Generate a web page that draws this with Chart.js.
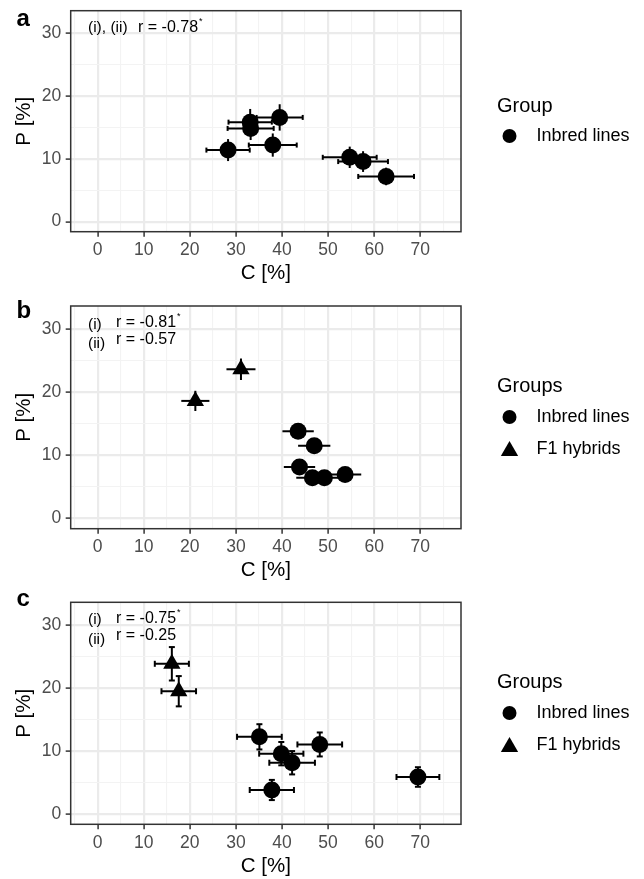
<!DOCTYPE html>
<html>
<head>
<meta charset="utf-8">
<script src="https://cdn.jsdelivr.net/npm/chart.js@4.4.1/dist/chart.umd.min.js"></script>
<style>
  body { margin: 0; background: #fff; }
  .panel { position: absolute; left: 0; width: 644px; }
  canvas { display: block; }
</style>
</head>
<body>
<div class="panel" style="top:0"><canvas id="chartA" width="644" height="290"></canvas></div>
<div class="panel" style="top:290px"><canvas id="chartB" width="644" height="295"></canvas></div>
<div class="panel" style="top:585px"><canvas id="chartC" width="644" height="294"></canvas></div>
<script>
// ---- axis ranges (same for all three panels)
const X_MIN = -5.85, X_MAX = 78.85;
const Y_MIN = -1.6, Y_MAX = 33.6;

// ---- panel a: inbred lines (C %, P %, error in C, error in P)
const aInbredC    = [28.3, 33.1, 33.2, 39.5, 38.0, 54.7, 57.6, 62.6];
const aInbredP    = [11.4, 15.85, 14.85, 16.6, 12.2, 10.25, 9.57, 7.2];
const aInbredCErr = [4.7, 4.7, 5.0, 5.0, 5.2, 5.85, 5.4, 6.05];
const aInbredPErr = [1.75, 2.1, 1.85, 2.1, 1.85, 1.7, 1.65, 1.4];

// ---- panel b
const bInbredC    = [43.5, 47.0, 43.8, 46.6, 49.2, 53.7];
const bInbredP    = [13.8, 11.5, 8.15, 6.47, 6.47, 6.95];
const bInbredCErr = [3.4, 3.5, 3.4, 3.5, 3.5, 3.5];
const bInbredPErr = [1.2, 1.2, 1.0, 0.9, 0.9, 1.0];
const bHybridC    = [21.2, 31.1];
const bHybridP    = [18.6, 23.6];
const bHybridCErr = [3.05, 3.15];
const bHybridPErr = [1.6, 1.7];

// ---- panel c
const cInbredC    = [35.1, 39.85, 42.2, 48.2, 37.8, 69.5];
const cInbredP    = [12.27, 9.6, 8.16, 11.06, 3.84, 5.9];
const cInbredCErr = [4.85, 4.8, 4.95, 4.85, 4.8, 4.65];
const cInbredPErr = [2.0, 1.85, 1.85, 1.9, 1.6, 1.55];
const cHybridC    = [16.1, 17.6];
const cHybridP    = [23.85, 19.5];
const cHybridCErr = [3.7, 3.75];
const cHybridPErr = [2.65, 2.4];

const FONT = '"Liberation Sans", Arial, Helvetica, sans-serif';

function toPoints(xs, ys) {
  return xs.map((x, i) => ({ x: x, y: ys[i] }));
}

function inbred(xs, ys, xe, ye) {
  return {
    label: 'Inbred lines', data: toPoints(xs, ys), cErr: xe, pErr: ye,
    pointStyle: 'circle', pointRadius: 8.5, pointBorderWidth: 0,
    backgroundColor: '#000', borderColor: '#000'
  };
}
function hybrid(xs, ys, xe, ye) {
  return {
    label: 'F1 hybrids', data: toPoints(xs, ys), cErr: xe, pErr: ye,
    pointStyle: 'triangle', pointRadius: 10, pointBorderWidth: 0,
    backgroundColor: '#000', borderColor: '#000'
  };
}

// error bars drawn under the points, through the chart scales
const errorBarPlugin = {
  id: 'ggErrorBars',
  beforeDatasetsDraw(chart, args, opts) {
    const { ctx } = chart;
    const x = chart.scales.x, y = chart.scales.y;
    ctx.save();
    ctx.strokeStyle = '#000';
    ctx.lineWidth = 2;
    const seg = (x0, y0, x1, y1) => { ctx.beginPath(); ctx.moveTo(x0, y0); ctx.lineTo(x1, y1); ctx.stroke(); };
    chart.data.datasets.forEach(ds => {
      ds.data.forEach((pt, i) => {
        const px = x.getPixelForValue(pt.x), py = y.getPixelForValue(pt.y);
        const xl = x.getPixelForValue(pt.x - ds.cErr[i]), xr = x.getPixelForValue(pt.x + ds.cErr[i]);
        const yt = y.getPixelForValue(pt.y + ds.pErr[i]), yb = y.getPixelForValue(pt.y - ds.pErr[i]);
        seg(xl, py, xr, py);
        seg(px, yt, px, yb);
        if (opts.capC) { seg(xl, py - opts.capC, xl, py + opts.capC); seg(xr, py - opts.capC, xr, py + opts.capC); }
        if (opts.capP) { seg(px - opts.capP, yt, px + opts.capP, yt); seg(px - opts.capP, yb, px + opts.capP, yb); }
      });
    });
    ctx.restore();
  }
};

function marker(ctx, style, r, cx, cy) {
  ctx.beginPath();
  if (style === 'triangle') {
    ctx.moveTo(cx, cy - r);
    ctx.lineTo(cx + r * Math.sin(2 * Math.PI / 3), cy - r * Math.cos(2 * Math.PI / 3));
    ctx.lineTo(cx + r * Math.sin(4 * Math.PI / 3), cy - r * Math.cos(4 * Math.PI / 3));
    ctx.closePath();
  } else {
    ctx.arc(cx, cy, r, 0, Math.PI * 2);
  }
  ctx.fill();
}

// frame, axis titles, panel letter, r-values and legend
const decorPlugin = {
  id: 'ggDecor',
  afterDraw(chart, args, o) {
    const { ctx, chartArea: a } = chart;
    ctx.save();
    ctx.strokeStyle = '#333333';
    ctx.lineWidth = 1.5;
    ctx.strokeRect(a.left, a.top, a.right - a.left, a.bottom - a.top);

    ctx.fillStyle = '#000';
    ctx.textBaseline = 'middle';
    ctx.textAlign = 'center';
    ctx.font = '20.5px ' + FONT;
    ctx.fillText('C [%]', (a.left + a.right) / 2, a.bottom + 42);
    ctx.save();
    ctx.translate(24.5, (a.top + a.bottom) / 2);
    ctx.rotate(-Math.PI / 2);
    ctx.fillText('P [%]', 0, 0);
    ctx.restore();

    ctx.textAlign = 'left';
    ctx.textBaseline = 'alphabetic';
    ctx.font = 'bold 24px ' + FONT;
    ctx.fillText(o.letter, 16.5, o.letterY);

    ctx.textBaseline = 'middle';
    o.notes.forEach(n => {
      ctx.font = n.size + 'px ' + FONT;
      ctx.fillText(n.text, n.x, n.y);
      if (n.star) {
        const w = ctx.measureText(n.text).width;
        ctx.font = '9px ' + FONT;
        ctx.fillText('*', n.x + w + 1, n.y - 6);
      }
    });

    ctx.font = '20px ' + FONT;
    ctx.fillText(o.legendTitle, 497, o.legendTitleY);
    ctx.font = '18px ' + FONT;
    o.legendItems.forEach((it, i) => {
      const cy = o.legendItemY + i * 32;
      marker(ctx, it.style, it.style === 'triangle' ? 10 : 7, 509.5, cy + (it.style === 'triangle' ? 2 : 0));
      ctx.fillText(it.label, 536.5, cy);
    });
    ctx.restore();
  }
};

function makePanel(id, datasets, cfg) {
  const isMajor = v => v % 10 === 0;
  const gridOpts = {
    color: c => isMajor(c.tick.value) ? '#ebebeb' : '#f3f3f3',
    lineWidth: c => isMajor(c.tick.value) ? 2.2 : 1.1,
    tickColor: c => isMajor(c.tick.value) ? '#333333' : 'rgba(0,0,0,0)',
    tickWidth: 1.5,
    tickLength: 5,
    drawTicks: true
  };
  const tickFont = { family: FONT, size: 17.5 };
  return new Chart(document.getElementById(id), {
    type: 'scatter',
    data: { datasets: datasets },
    options: {
      responsive: false,
      animation: false,
      events: [],
      layout: { padding: { left: 0, right: 644 - 461, top: cfg.top, bottom: 0 } },
      plugins: {
        legend: { display: false },
        tooltip: { enabled: false },
        ggErrorBars: { capC: cfg.capC, capP: cfg.capP },
        ggDecor: cfg.decor
      },
      scales: {
        x: {
          type: 'linear', min: X_MIN, max: X_MAX,
          afterFit: s => { s.height = cfg.xAxisH; s.paddingLeft = 0; s.paddingRight = 0; },
          border: { display: false },
          grid: gridOpts,
          ticks: {
            stepSize: 5, includeBounds: false, autoSkip: false, maxRotation: 0, maxTicksLimit: 100,
            callback: v => isMajor(v) ? String(v) : '',
            color: '#4d4d4d', font: tickFont, padding: 3
          }
        },
        y: {
          type: 'linear', min: Y_MIN, max: Y_MAX,
          afterFit: s => { s.width = 70.7; s.paddingTop = 0; s.paddingBottom = 0; },
          border: { display: false },
          grid: gridOpts,
          ticks: {
            stepSize: 5, includeBounds: false, autoSkip: false, maxTicksLimit: 100,
            callback: v => isMajor(v) ? String(v) : '',
            color: '#4d4d4d', font: tickFont, padding: 4.5
          }
        }
      }
    },
    plugins: [errorBarPlugin, decorPlugin]
  });
}

makePanel('chartA', [inbred(aInbredC, aInbredP, aInbredCErr, aInbredPErr)], {
  top: 10.7, xAxisH: 290 - 231.7, capC: 2.5, capP: 0,
  decor: {
    letter: 'a', letterY: 26,
    notes: [
      { text: '(i), (ii)', x: 88, y: 27.5, size: 15.5 },
      { text: 'r = -0.78', x: 138, y: 27.5, size: 16, star: true }
    ],
    legendTitle: 'Group', legendTitleY: 106,
    legendItemY: 136,
    legendItems: [{ style: 'circle', label: 'Inbred lines' }]
  }
});

makePanel('chartB', [
  inbred(bInbredC, bInbredP, bInbredCErr, bInbredPErr),
  hybrid(bHybridC, bHybridP, bHybridCErr, bHybridPErr)
], {
  top: 16, xAxisH: 295 - 238.7, capC: 0, capP: 0,
  decor: {
    letter: 'b', letterY: 28,
    notes: [
      { text: '(i)', x: 88, y: 34.3, size: 15.5 },
      { text: 'r = -0.81', x: 116, y: 32.7, size: 16, star: true },
      { text: '(ii)', x: 88, y: 53.3, size: 15.5 },
      { text: 'r = -0.57', x: 116, y: 49.3, size: 16 }
    ],
    legendTitle: 'Groups', legendTitleY: 96,
    legendItemY: 127,
    legendItems: [{ style: 'circle', label: 'Inbred lines' }, { style: 'triangle', label: 'F1 hybrids' }]
  }
});

makePanel('chartC', [
  inbred(cInbredC, cInbredP, cInbredCErr, cInbredPErr),
  hybrid(cHybridC, cHybridP, cHybridCErr, cHybridPErr)
], {
  top: 17.3, xAxisH: 294 - 239.3, capC: 3, capP: 3,
  decor: {
    letter: 'c', letterY: 21,
    notes: [
      { text: '(i)', x: 88, y: 34.3, size: 15.5 },
      { text: 'r = -0.75', x: 116, y: 33.3, size: 16, star: true },
      { text: '(ii)', x: 88, y: 54.3, size: 15.5 },
      { text: 'r = -0.25', x: 116, y: 50.7, size: 16 }
    ],
    legendTitle: 'Groups', legendTitleY: 97,
    legendItemY: 128,
    legendItems: [{ style: 'circle', label: 'Inbred lines' }, { style: 'triangle', label: 'F1 hybrids' }]
  }
});
</script>
</body>
</html>
